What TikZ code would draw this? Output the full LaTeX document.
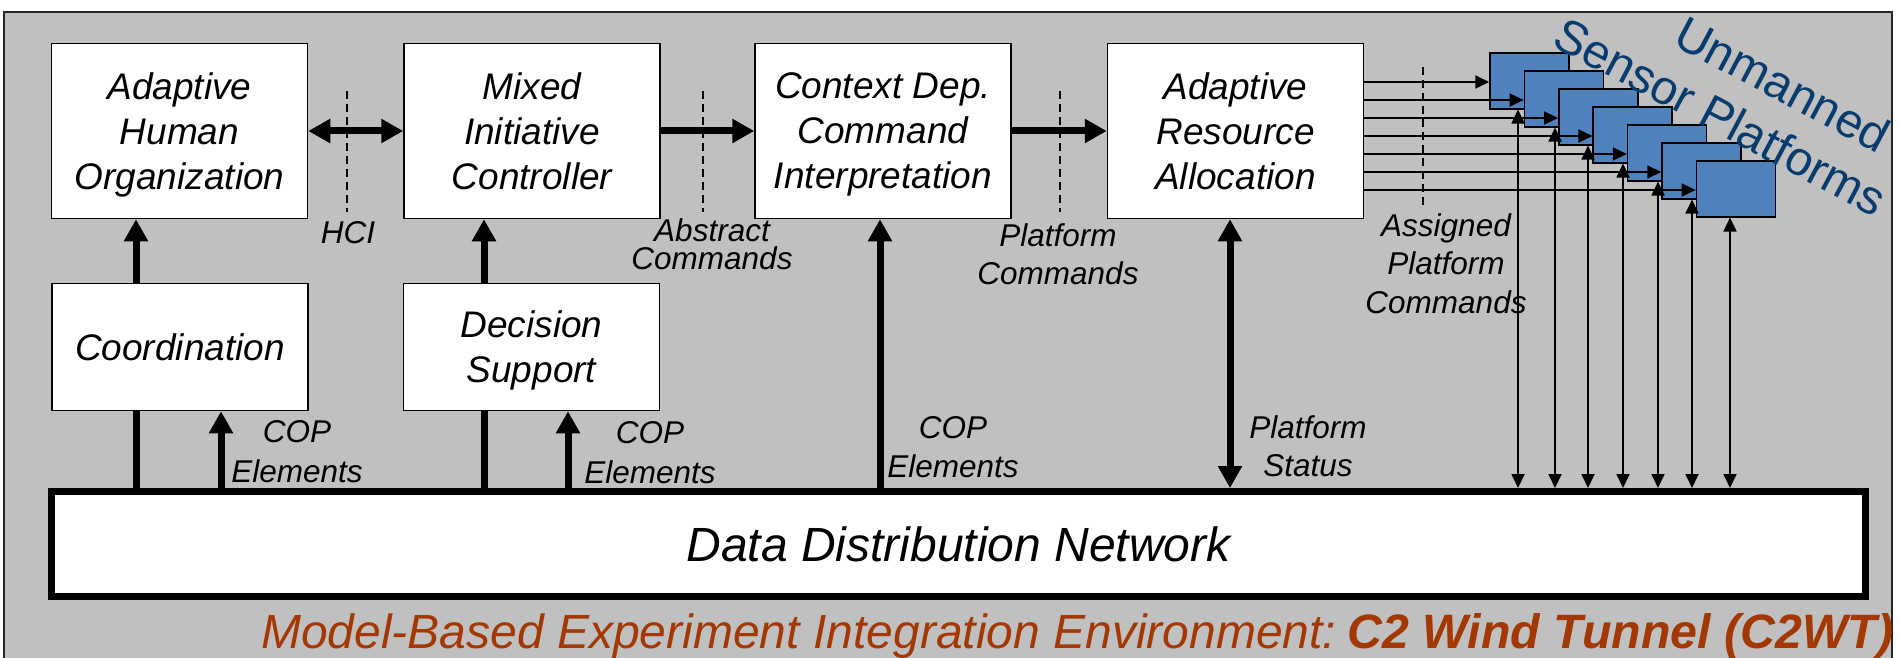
\documentclass[tikz,border=0pt]{standalone}
\usepackage{fontspec}
\setmainfont{Liberation Sans}
\usetikzlibrary{arrows.meta}
\definecolor{bggray}{RGB}{192,192,192}
\definecolor{spblue}{RGB}{79,129,189}
\definecolor{spdark}{RGB}{8,60,110}
\definecolor{capcol}{RGB}{163,56,4}
\newcommand{\bxfont}{\fontsize{37}{45}\selectfont\itshape}
\newcommand{\bigfnt}{\fontsize{48}{56}\selectfont}
\begin{document}
\begin{tikzpicture}[x=1pt,y=-1pt,
  blk/.style={draw=black, line width=1.5pt, fill=white, inner sep=0pt, align=center, font=\bxfont, text depth=0pt, minimum width=256pt, minimum height=175pt},
  sblk/.style={blk, minimum height=127pt},
  spbox/.style={draw=black, line width=1.5pt, fill=spblue, minimum width=79pt, minimum height=56pt, inner sep=0pt},
  thk/.style={line width=7pt},
  thkarr/.style={line width=7pt, -{Triangle[length=22pt,width=23pt]}},
  thkdbl/.style={line width=7pt, {Triangle[length=22pt,width=23pt]}-{Triangle[length=22pt,width=23pt]}},
  thinarr/.style={line width=1.8pt, -{Triangle[length=14pt,width=13pt]}},
  thindbl/.style={line width=1.8pt, {Triangle[length=14pt,width=13pt]}-{Triangle[length=14pt,width=13pt]}},
  dsh/.style={line width=1.2pt, dash pattern=on 8pt off 5pt},
  lbl/.style={font=\fontsize{31.5}{#1}\selectfont\itshape, align=center, inner sep=0pt},
]
\useasboundingbox (0,0) rectangle (1899,658);
\fill[bggray] (4,12) rectangle (1892,658);
\draw[line width=1.5pt, draw=black!85] (4,658) -- (4,12) -- (1892,12) -- (1892,658);

% main boxes
\node[blk] (aho) at (179.5,131) {Adaptive\\Human\\Organization};
\node[blk] (mic) at (532,131) {Mixed\\Initiative\\Controller};
\node[blk] (cdci) at (883,131) {Context Dep.\\Command\\Interpretation};
\node[blk] (ara) at (1235.5,131) {Adaptive\\Resource\\Allocation};
\node[sblk] (coord) at (180,347) {Coordination};
\node[sblk] (ds) at (531.5,347) {Decision\\Support};
\node[draw=black, line width=7pt, fill=white, minimum width=1814pt, minimum height=105pt, inner sep=0pt, font=\bigfnt\itshape] (ddn) at (958.5,544) {Data Distribution Network};

% sensor platforms
\foreach \k in {0,...,6}
  \node[spbox] (sp\k) at ({1529.5+34.4*\k},{80.8+18*\k}) {};

% thick connectors
\coordinate (c1) at (136,300);
\coordinate (c2) at (221,300);
\coordinate (c3) at (484,300);
\coordinate (c4) at (568,300);
\coordinate (c5) at (880,300);
\coordinate (c6) at (1230,300);
\draw[thk] (ddn.north -| c1) -- (coord.south -| c1);
\draw[thkarr] (coord.north -| c1) -- (aho.south -| c1);
\draw[thkarr] (ddn.north -| c2) -- (coord.south -| c2);
\draw[thk] (ddn.north -| c3) -- (ds.south -| c3);
\draw[thkarr] (ds.north -| c3) -- (mic.south -| c3);
\draw[thkarr] (ddn.north -| c4) -- (ds.south -| c4);
\draw[thkarr] (ddn.north -| c5) -- (cdci.south -| c5);
\draw[thkdbl] (ddn.north -| c6) -- (ara.south -| c6);
\draw[thkdbl] (aho.east) -- (mic.west);
\draw[thkarr] (mic.east) -- (cdci.west);
\draw[thkarr] (cdci.east) -- (ara.west);

% thin connectors to platforms
\foreach \k in {0,...,6} {
  \coordinate (hy\k) at (0,{82+18*\k});
  \draw[thinarr] (ara.east |- hy\k) -- (sp\k.west |- hy\k);
}
\foreach \x [count=\i from 0] in {1518,1555,1588,1623,1658,1692,1730} {
  \coordinate (vx\i) at (\x,300);
  \draw[thindbl] (ddn.north -| vx\i) -- (sp\i.south -| vx\i);
}

% dashed interface lines
\coordinate (d1a) at (347,91);  \coordinate (d1b) at (347,212);
\coordinate (d2a) at (703,91);  \coordinate (d2b) at (703,212);
\coordinate (d3a) at (1060,91); \coordinate (d3b) at (1060,212);
\coordinate (d4a) at (1423,67); \coordinate (d4b) at (1423,208);
\draw[dsh] (d1a) -- (d1b);
\draw[dsh] (d2a) -- (d2b);
\draw[dsh] (d3a) -- (d3b);
\draw[dsh] (d4a) -- (d4b);

% labels
\node[lbl=28] (lhci) at (348,233) {HCI};
\node[lbl=28] (labs) at (712,244) {Abstract\\Commands};
\node[lbl=38] (lpc) at (1058,254) {Platform\\Commands};
\node[lbl=38.5] (lapc) at (1446,263.5) {Assigned\\Platform\\Commands};
\node[lbl=40] (lcop1) at (297,452) {COP\\Elements};
\node[lbl=40] (lcop2) at (650,453) {COP\\Elements};
\node[lbl=39] (lcop3) at (953,447) {COP\\Elements};
\node[lbl=38] (lps) at (1308,446) {Platform\\Status};

% rotated title
\node[rotate=-28, anchor=base west, inner sep=0pt, text=spdark, font=\bigfnt] (tun) at (1671,44) {Unmanned};
\node[rotate=-28, anchor=base west, inner sep=0pt, text=spdark, font=\bigfnt] (tsp) at (1550,45) {Sensor Platforms};

% caption
\node[anchor=base west, inner sep=0pt, text=capcol, font=\bigfnt\itshape] (cap) at (261,648) {Model-Based Experiment Integration Environment:\hspace{11pt}{\fontsize{48.3}{56}\selectfont\bfseries C2 Wind Tunnel (C2WT)}};
\end{tikzpicture}
\end{document}
